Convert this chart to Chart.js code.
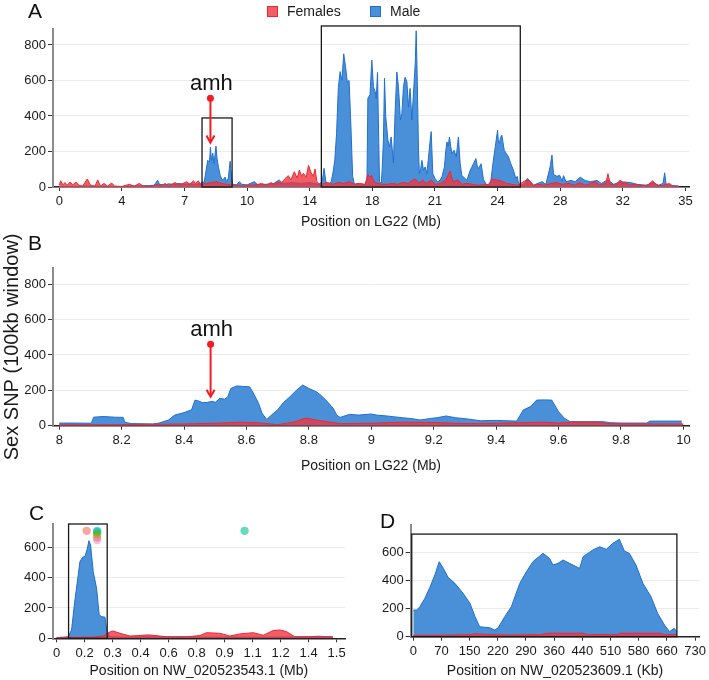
<!DOCTYPE html>
<html>
<head>
<meta charset="utf-8">
<script src="https://cdn.jsdelivr.net/npm/chart.js@4.4.1/dist/chart.umd.min.js"></script>
<style>
  body { margin: 0; background: #fff; }
  #wrap { position: relative; width: 709px; height: 680px; overflow: hidden; }
  .pane { position: absolute; }
</style>
</head>
<body>
<div id="wrap">
  <div class="pane" style="left:0;top:0"><canvas id="cA" width="709" height="240"></canvas></div>
  <div class="pane" style="left:0;top:228px"><canvas id="cB" width="709" height="250"></canvas></div>
  <div class="pane" style="left:0;top:490px"><canvas id="cC" width="360" height="190"></canvas></div>
  <div class="pane" style="left:360px;top:490px"><canvas id="cD" width="349" height="190"></canvas></div>
</div>
<script>
// ---- data ----

// A: whole LG22, 0-35 Mb
const maleAPos = [
  0, 0.5, 1, 1.5, 2, 2.5, 3, 3.5, 4, 4.5,
  5, 5.3, 5.5, 5.6, 5.9, 6.1, 6.4, 6.7, 7.0, 7.3,
  7.6, 7.9, 8.0, 8.1, 8.2, 8.3, 8.4, 8.45, 8.5, 8.58,
  8.65, 8.76, 8.82, 8.9, 9.0, 9.1, 9.2, 9.27, 9.35, 9.45,
  9.55, 9.62, 9.7, 9.9, 10.07, 10.2, 10.5, 10.9, 11.1, 11.5,
  12.0, 12.29, 12.5, 13.0, 13.5, 14.0, 14.5, 14.7, 14.8, 14.9,
  15.1, 15.2, 15.3, 15.4, 15.5, 15.6, 15.7, 15.8, 15.9, 16.0,
  16.1, 16.2, 16.3, 16.4, 16.5, 16.7, 16.9, 17.1, 17.2, 17.25,
  17.37, 17.47, 17.56, 17.66, 17.72, 17.79, 17.86, 17.9, 18.0, 18.05,
  18.12, 18.18, 18.25, 18.37, 18.46, 18.55, 18.68, 18.77, 18.87, 18.96,
  19.07, 19.15, 19.24, 19.33, 19.43, 19.52, 19.61, 19.71, 19.82, 19.9,
  19.95, 20.0, 20.08, 20.13, 20.2, 20.27, 20.36, 20.45, 20.55, 20.64,
  20.72, 20.79, 20.88, 21.01, 21.15, 21.29, 21.4, 21.53, 21.6, 21.67,
  21.74, 21.81, 21.88, 21.95, 22.07, 22.19, 22.31, 22.41, 22.5, 22.65,
  22.79, 22.97, 23.05, 23.15, 23.29, 23.36, 23.43, 23.58, 23.71, 23.9,
  24.1, 24.24, 24.37, 24.5, 24.55, 24.6, 24.67, 24.74, 24.87, 24.98,
  25.11, 25.24, 25.39, 25.52, 25.6, 25.67, 25.8, 26.0, 26.17, 26.33,
  26.5, 26.98, 27.2, 27.44, 27.54, 27.63, 27.82, 27.97, 28.1, 28.19,
  28.32, 28.6, 28.84, 29.12, 29.4, 29.68, 30.06, 30.3, 30.65, 31.0,
  31.36, 31.92, 32.3, 32.8, 33.19, 33.5, 33.75, 33.84, 33.92, 34.25, 34.62
];
const maleAVal = [
  3, 2, 3, 5, 3, 4, 2, 3, 5, 6,
  8, 10, 38, 15, 12, 18, 14, 20, 15, 18,
  15, 20, 30, 25, 90, 150, 140, 225, 150, 190,
  130, 230, 160, 110, 65, 40, 45, 56, 30, 50,
  145, 60, 15, 12, 30, 15, 12, 30, 12, 15,
  20, 40, 20, 25, 20, 25, 15, 30, 105, 30,
  15, 30, 80, 150, 300, 560, 650, 600, 750, 680,
  590, 600, 350, 60, 15, 20, 12, 15, 40, 500,
  520, 715, 565, 537, 500, 645, 250, 30, 20, 100,
  265, 612, 396, 265, 226, 282, 137, 413, 648, 565,
  377, 413, 565, 618, 594, 451, 555, 377, 565, 700,
  880, 662, 207, 75, 100, 150, 94, 113, 75, 169,
  250, 312, 75, 47, 30, 38, 60, 113, 200, 254,
  230, 282, 230, 188, 207, 169, 282, 131, 66, 50,
  38, 94, 110, 131, 160, 120, 103, 131, 42, 10,
  15, 131, 226, 320, 250, 245, 280, 292, 207, 190,
  169, 131, 94, 47, 60, 20, 10, 15, 49, 30,
  10, 30, 15, 115, 180, 70, 60, 66, 34, 64,
  30, 37, 30, 55, 36, 30, 37, 20, 40, 15,
  30, 25, 15, 10, 25, 10, 20, 80, 15, 8, 5
];
const femaleAPos = [
  0, 0.08, 0.2, 0.32, 0.45, 0.6, 0.75, 0.93, 1.1, 1.3,
  1.57, 1.75, 2.0, 2.15, 2.3, 2.5, 2.7, 2.93, 3.1, 3.5,
  3.92, 4.2, 4.47, 4.7, 5.2, 5.48, 5.7, 5.91, 6.1, 6.47,
  6.7, 7.13, 7.3, 7.5, 7.6, 7.77, 7.9, 8.2, 8.5, 8.8,
  9.1, 9.4, 9.7, 10.0, 10.3, 10.6, 11.0, 11.3, 11.6, 11.84,
  12.0, 12.16, 12.4, 12.6, 12.8, 12.95, 13.14, 13.3, 13.42, 13.55,
  13.65, 13.8, 13.93, 14.08, 14.2, 14.3, 14.4, 14.6, 14.8, 15.0,
  15.3, 15.6, 15.9, 16.2, 16.5, 16.8, 17.1, 17.25, 17.35, 17.45,
  17.6, 17.8, 18.0, 18.3, 18.6, 18.9, 19.2, 19.5, 19.7, 19.9,
  20.1, 20.3, 20.5, 20.8, 21.0, 21.3, 21.6, 21.85, 22.0, 22.3,
  22.5, 22.8, 23.1, 23.4, 23.7, 24.0, 24.2, 24.4, 24.7, 25.0,
  25.3, 25.6, 25.8, 26.1, 26.3, 26.5, 26.8, 27.1, 27.5, 27.8,
  28.1, 28.5, 28.8, 29.1, 29.4, 29.7, 29.96, 30.2, 30.55, 30.67,
  30.8, 31.1, 31.36, 31.5, 31.7, 31.9, 32.2, 32.5, 32.9, 33.17,
  33.4, 33.7, 34.1, 34.3, 34.62
];
const femaleAVal = [
  10, 35, 12, 25, 10, 28, 12, 28, 10, 5,
  45, 10, 5, 40, 5, 20, 5, 22, 5, 3,
  15, 5, 20, 5, 5, 15, 5, 20, 5, 25,
  10, 30, 15, 35, 20, 35, 15, 20, 25, 30,
  20, 15, 10, 10, 5, 10, 12, 20, 10, 25,
  15, 30, 20, 45, 64, 40, 86, 50, 96, 60,
  77, 55, 122, 80, 60, 101, 30, 10, 20, 25,
  15, 25, 20, 30, 15, 20, 15, 70, 55, 65,
  30, 20, 15, 15, 20, 15, 25, 20, 35, 45,
  20, 40, 20, 40, 15, 20, 40, 90, 30, 40,
  15, 20, 15, 10, 12, 15, 45, 40, 35, 20,
  15, 10, 20, 39, 35, 10, 15, 10, 20, 25,
  15, 20, 10, 25, 10, 20, 30, 10, 20, 75,
  15, 10, 40, 20, 25, 10, 15, 8, 10, 35,
  10, 8, 20, 5, 5
];
const tickPosA = [0, 3.5, 7, 10.5, 14, 17.5, 21, 24.5, 28, 31.5, 35];
const tickLabA = ['0', '4', '7', '10', '14', '18', '21', '24', '28', '32', '35'];
const boxesA = [[7.98, 9.66, 0, 389], [14.65, 25.77, 0, 907]];
const amhA = { x: 8.45, from: 500, to: 250 };

// B: zoom 8-10 Mb
const maleBPos = [
  8.0, 8.05, 8.1, 8.104, 8.11, 8.14, 8.18, 8.205, 8.21, 8.23,
  8.3, 8.32, 8.35, 8.37, 8.4, 8.424, 8.435, 8.446, 8.46, 8.475,
  8.49, 8.5, 8.515, 8.53, 8.54, 8.55, 8.569, 8.59, 8.61, 8.62,
  8.638, 8.65, 8.665, 8.68, 8.7, 8.718, 8.74, 8.76, 8.78, 8.8,
  8.825, 8.84, 8.857, 8.878, 8.889, 8.9, 8.93, 8.96, 9.0, 9.017,
  9.05, 9.07, 9.1, 9.13, 9.156, 9.19, 9.21, 9.24, 9.27, 9.3,
  9.35, 9.4, 9.466, 9.487, 9.509, 9.53, 9.555, 9.578, 9.6, 9.62,
  9.637, 9.7, 9.744, 9.765, 9.8, 9.883, 9.893, 9.95, 9.995
];
const maleBVal = [
  15, 15, 14, 18, 48, 52, 48, 47, 20, 12,
  10, 15, 32, 60, 74, 90, 145, 140, 130, 132,
  138, 132, 155, 150, 163, 211, 225, 222, 220, 191,
  130, 70, 35, 60, 90, 130, 165, 200, 230, 211,
  191, 170, 140, 98, 60, 47, 64, 60, 66, 60,
  55, 51, 45, 40, 32, 41, 45, 55, 45, 40,
  28, 30, 26, 89, 107, 145, 146, 145, 79, 40,
  23, 23, 23, 17, 15, 15, 26, 26, 26
];
const femaleBPos = [8.0, 8.2, 8.3, 8.4, 8.5, 8.58, 8.64, 8.7, 8.75, 8.79, 8.83, 8.9, 9.0, 9.1, 9.2, 9.3, 9.4, 9.5, 9.55, 9.6, 9.65, 9.72, 9.76, 9.85, 10.0];
const femaleBVal = [5, 6, 8, 10, 14, 20, 16, 6, 20, 43, 30, 12, 14, 20, 18, 12, 14, 18, 20, 15, 20, 20, 12, 10, 10];
const tickPosB = [8, 8.2, 8.4, 8.6, 8.8, 9, 9.2, 9.4, 9.6, 9.8, 10];
const tickLabB = ['8', '8.2', '8.4', '8.6', '8.8', '9', '9.2', '9.4', '9.6', '9.8', '10'];
const amhB = { x: 8.485, from: 460, to: 164 };

// C: NW_020523543.1
const maleCPos = [0, 0.062, 0.08, 0.098, 0.11, 0.125, 0.139, 0.152, 0.164, 0.173, 0.182, 0.196, 0.214, 0.228, 0.241, 0.259, 0.268, 0.285, 0.35, 0.5, 0.8, 1.0, 1.2, 1.35, 1.4, 1.45, 1.48];
const maleCVal = [4, 10, 55, 252, 362, 505, 534, 540, 587, 643, 615, 439, 330, 154, 143, 139, 55, 10, 8, 10, 8, 8, 8, 10, 14, 10, 8];
const femaleCPos = [0, 0.2, 0.25, 0.27, 0.29, 0.303, 0.339, 0.393, 0.44, 0.482, 0.5, 0.589, 0.696, 0.768, 0.803, 0.875, 0.928, 0.982, 1.053, 1.107, 1.16, 1.196, 1.232, 1.276, 1.48];
const femaleCVal = [5, 8, 15, 30, 45, 48, 33, 15, 18, 22, 22, 10, 10, 18, 37, 33, 15, 29, 37, 20, 51, 55, 44, 10, 10];
const dotCPos = [0.161, 0.217, 0.217, 0.217, 0.217, 0.217, 1.007];
const dotCVal = [708, 708, 700, 686, 664, 648, 708];
const dotCCol = ['rgba(248,118,109,0.65)', 'rgba(0,182,235,0.6)', 'rgba(0,192,148,0.6)', 'rgba(83,180,0,0.6)', 'rgba(196,154,0,0.6)', 'rgba(251,97,215,0.45)', 'rgba(0,192,148,0.6)'];
const tickPosC = [0, 0.15, 0.3, 0.45, 0.6, 0.75, 0.9, 1.05, 1.2, 1.35, 1.5];
const tickLabC = ['0', '0.2', '0.3', '0.4', '0.6', '0.8', '0.9', '1.1', '1.2', '1.4', '1.5'];
const boxesC = [[0.064, 0.271, 0, 753]];

// D: NW_020523609.1 (Kb)
const maleDPos = [0, 9, 17, 30, 43, 56, 67, 78, 90, 108, 129, 147, 160, 172, 198, 211, 220, 237, 254, 276, 293, 310, 336, 353, 362, 375, 388, 405, 431, 440, 465, 483, 500, 517, 534, 547, 560, 577, 595, 616, 633, 651, 664, 676, 683];
const maleDVal = [190, 190, 214, 274, 353, 441, 536, 488, 424, 381, 310, 238, 143, 71, 64, 48, 64, 143, 214, 381, 464, 536, 596, 560, 512, 524, 548, 524, 488, 572, 619, 643, 624, 667, 696, 612, 595, 512, 381, 286, 167, 83, 36, 60, 36];
const femaleDPos = [0, 50, 100, 150, 160, 200, 250, 330, 350, 440, 450, 530, 535, 640, 650, 683];
const femaleDVal = [10, 10, 12, 15, 20, 15, 12, 15, 25, 25, 15, 15, 25, 25, 15, 15];
const tickPosD = [0, 73, 146, 219, 292, 365, 438, 511, 584, 657, 730];
const tickLabD = ['0', '70', '150', '220', '290', '360', '440', '510', '580', '660', '730'];
const boxesD = [[-4, 683, 0, 733]];

const yTicksBig = [0, 200, 400, 600, 800];
const yTicksSmall = [0, 200, 400, 600];

// ---- styling ----
const FONT = '"Liberation Sans", Arial, Helvetica, sans-serif';
Chart.defaults.font.family = FONT;
Chart.defaults.color = '#1a1a1a';

const MALE = { label: 'Male', backgroundColor: 'rgb(74,144,217)', borderColor: '#1f6fd1' };
const FEMALE = { label: 'Females', backgroundColor: 'rgba(240,52,62,0.8)', borderColor: '#ea2a33' };

const pts = (xs, ys) => xs.map((v, i) => ({ x: v, y: ys[i] }));

function area(style, xs, ys) {
  return Object.assign({ data: pts(xs, ys), fill: 'origin', borderWidth: 1, pointRadius: 0, tension: 0 }, style);
}

// boxes, amh marker, panel letter, legend
function overlay(spec) {
  return {
    id: 'overlay',
    afterDraw(chart) {
      const { ctx } = chart;
      const x = chart.scales.x, y = chart.scales.y;
      ctx.save();
      ctx.strokeStyle = '#1a1a1a';
      ctx.lineWidth = 1.3;
      (spec.boxes || []).forEach(([x0, x1, y0, y1]) => {
        const l = x.getPixelForValue(x0), r = x.getPixelForValue(x1);
        const b = y.getPixelForValue(y0), t = y.getPixelForValue(y1);
        ctx.strokeRect(l, t, r - l, b - t);
      });
      if (spec.marker) {
        const m = spec.marker;
        const px = x.getPixelForValue(m.x);
        const p0 = y.getPixelForValue(m.from), p1 = y.getPixelForValue(m.to);
        ctx.strokeStyle = ctx.fillStyle = '#f01e23';
        ctx.lineWidth = 2;
        ctx.beginPath(); ctx.moveTo(px, p0); ctx.lineTo(px, p1 - 1); ctx.stroke();
        ctx.beginPath(); ctx.moveTo(px - 4, p1 - 7); ctx.lineTo(px, p1); ctx.lineTo(px + 4, p1 - 7); ctx.stroke();
        ctx.beginPath(); ctx.arc(px, p0, 3.5, 0, Math.PI * 2); ctx.fill();
        ctx.fillStyle = '#111';
        ctx.font = '22px ' + FONT;
        ctx.textAlign = 'center';
        ctx.textBaseline = 'alphabetic';
        ctx.fillText('amh', px + 1, p0 - 8);
      }
      ctx.fillStyle = '#111';
      ctx.font = '21px ' + FONT;
      ctx.textAlign = 'left';
      ctx.textBaseline = 'alphabetic';
      ctx.fillText(spec.letter, spec.letterAt[0], spec.letterAt[1]);
      if (spec.legend) {
        ctx.font = '14px ' + FONT;
        ctx.textBaseline = 'middle';
        spec.legend.forEach(([i, bx]) => {
          const ds = chart.data.datasets[i];
          ctx.fillStyle = ds.backgroundColor;
          ctx.fillRect(bx, 6, 11, 11);
          ctx.strokeStyle = ds.borderColor;
          ctx.lineWidth = 1;
          ctx.strokeRect(bx + 0.5, 6.5, 10, 10);
          ctx.fillStyle = '#1a1a1a';
          ctx.fillText(ds.label, bx + 20, 12);
        });
      }
      ctx.restore();
    }
  };
}

function panelOptions(o) {
  return {
    responsive: false,
    animation: false,
    events: [],
    layout: { padding: o.pad },
    plugins: { legend: { display: false }, tooltip: { enabled: false } },
    scales: {
      x: {
        type: 'linear', min: o.xMin, max: o.xMax,
        afterBuildTicks: s => { s.ticks = o.xTicks.map(v => ({ value: v })); },
        afterFit: s => { s.height = o.xH; },
        ticks: { autoSkip: false, maxRotation: 0, padding: 3, color: '#1a1a1a', font: { size: 13 },
                 callback: (v, i) => o.xLabels[i] },
        grid: { drawOnChartArea: false, tickLength: 4, tickColor: '#333' },
        border: { color: '#222', width: 1.5 },
        title: { display: true, text: o.xTitle, color: '#1a1a1a', font: { size: 14 }, padding: { top: 0, bottom: o.xTitlePad } }
      },
      y: {
        type: 'linear', min: 0, max: o.yMax,
        afterBuildTicks: s => { s.ticks = o.yTicks.map(v => ({ value: v })); },
        afterFit: s => { s.width = o.yW; },
        ticks: { padding: 2, color: '#1a1a1a', font: { size: 13 } },
        grid: { color: '#ebebeb', lineWidth: 1, tickLength: 5, tickColor: '#333' },
        border: { color: '#8c8c8c', width: 2 },
        title: o.yTitle
          ? { display: true, text: o.yTitle, color: '#1a1a1a', font: { size: 20 }, padding: { top: 0, bottom: 0 } }
          : { display: false }
      }
    }
  };
}

// A
new Chart(document.getElementById('cA'), {
  type: 'line',
  data: { datasets: [area(FEMALE, femaleAPos, femaleAVal), area(MALE, maleAPos, maleAVal)] },
  options: panelOptions({
    pad: { left: 0, top: 29, right: 20, bottom: 0 },
    xMin: -0.35, xMax: 35.2, xTicks: tickPosA, xLabels: tickLabA, xH: 53, xTitlePad: 9.6,
    xTitle: 'Position on LG22 (Mb)', yMax: 890, yTicks: yTicksBig, yW: 53
  }),
  plugins: [overlay({ letter: 'A', letterAt: [28, 18], boxes: boxesA, marker: amhA, legend: [[0, 267], [1, 370]] })]
});

// B
new Chart(document.getElementById('cB'), {
  type: 'line',
  data: { datasets: [area(FEMALE, femaleBPos, femaleBVal), area(MALE, maleBPos, maleBVal)] },
  options: panelOptions({
    pad: { left: 0, top: 40, right: 20, bottom: 0 },
    xMin: 7.98, xMax: 10.018, xTicks: tickPosB, xLabels: tickLabB, xH: 52.3, xTitlePad: 3.6,
    xTitle: 'Position on LG22 (Mb)', yMax: 892, yTicks: yTicksBig, yW: 53,
    yTitle: 'Sex SNP (100kb window)'
  }),
  plugins: [overlay({ letter: 'B', letterAt: [28, 22], marker: amhB })]
});

// C
new Chart(document.getElementById('cC'), {
  type: 'line',
  data: {
    datasets: [
      { data: pts(dotCPos, dotCVal), showLine: false, fill: false, pointRadius: 4.2, pointBorderWidth: 0,
        pointBackgroundColor: dotCCol, borderColor: 'transparent' },
      area(FEMALE, femaleCPos, femaleCVal),
      area(MALE, maleCPos, maleCVal)
    ]
  },
  options: panelOptions({
    pad: { left: 0, top: 34, right: 15, bottom: 0 },
    xMin: -0.021, xMax: 1.545, xTicks: tickPosC, xLabels: tickLabC, xH: 41.7, xTitlePad: 0,
    xTitle: 'Position on NW_020523543.1 (Mb)', yMax: 753, yTicks: yTicksSmall, yW: 52.7
  }),
  plugins: [overlay({ letter: 'C', letterAt: [29, 30], boxes: boxesC })]
});

// D
new Chart(document.getElementById('cD'), {
  type: 'line',
  data: { datasets: [area(FEMALE, femaleDPos, femaleDVal), area(MALE, maleDPos, maleDVal)] },
  options: panelOptions({
    pad: { left: 0, top: 35, right: 9, bottom: 0 },
    xMin: -6.7, xMax: 741, xTicks: tickPosD, xLabels: tickLabD, xH: 43.3, xTitlePad: 0,
    xTitle: 'Position on NW_020523609.1 (Kb)', yMax: 798, yTicks: yTicksSmall, yW: 50.7
  }),
  plugins: [overlay({ letter: 'D', letterAt: [20, 38], boxes: boxesD })]
});
</script>
</body>
</html>
